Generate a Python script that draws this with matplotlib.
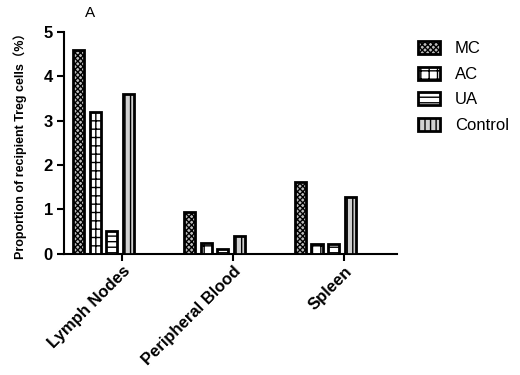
import matplotlib
matplotlib.use("Agg")
import matplotlib.pyplot as plt
import numpy as np

plt.rcParams['font.family'] = ['Liberation Sans', 'Noto Sans CJK SC', 'DejaVu Sans']
plt.rcParams['hatch.linewidth'] = 1.0

categories = ["Lymph Nodes", "Peripheral Blood", "Spleen"]
series = ["MC", "AC", "UA", "Control"]
mc = [4.6, 0.95, 1.63]
ac = [3.2, 0.25, 0.23]
ua = [0.52, 0.12, 0.23]
control = [3.6, 0.4, 1.27]
yticks = [0, 1, 2, 3, 4, 5]

values = [mc, ac, ua, control]
hatches = ["xxxxxx", "++", "---", "|||"]
facecolors = ["#bdbdbd", "white", "white", "#d0d0d0"]

fig = plt.figure(figsize=(5.2, 3.75), dpi=100)
ax = fig.add_axes([0.123, 0.323, 0.64, 0.592])

x = np.arange(len(categories))
width = 0.1
step = 0.15
offsets = (np.arange(len(series)) - 1.5) * step
handles = []
for k, (name, vals) in enumerate(zip(series, values)):
    b = ax.bar(x + offsets[k], vals, width, color=facecolors[k], edgecolor="black",
               linewidth=2.0, hatch=hatches[k], label=name, zorder=3)
    handles.append(b)

ax.set_xlim(-0.356, 2.644)
ax.set_ylim(0, 5)
ax.set_yticks(yticks)
ax.set_yticklabels([str(t) for t in yticks], fontsize=12, fontweight="bold")
ax.set_xticks(x + 0.17)
ax.set_xticklabels(categories, rotation=45, ha="right", rotation_mode="anchor",
                   fontsize=12, fontweight="bold")
ax.tick_params(axis="both", width=1.5, length=5)
ax.tick_params(axis="y", pad=3)
ax.tick_params(axis="x", pad=2)
for s in ["top", "right"]:
    ax.spines[s].set_visible(False)
for s in ["left", "bottom"]:
    ax.spines[s].set_linewidth(1.5)

ax.set_ylabel("Proportion of recipient Treg cells（%）", fontsize=9, fontweight="bold", labelpad=12)
fig.text(0.173, 0.965, "A", fontsize=11, ha="center", va="center")

leg = fig.legend(handles=handles, labels=series, loc="upper left",
                 bbox_to_anchor=(0.804, 0.89), frameon=False, fontsize=12,
                 borderpad=0, borderaxespad=0,
                 handlelength=1.32, handleheight=0.8, labelspacing=0.62, handletextpad=0.9)

fig.savefig("out.png", dpi=100)
